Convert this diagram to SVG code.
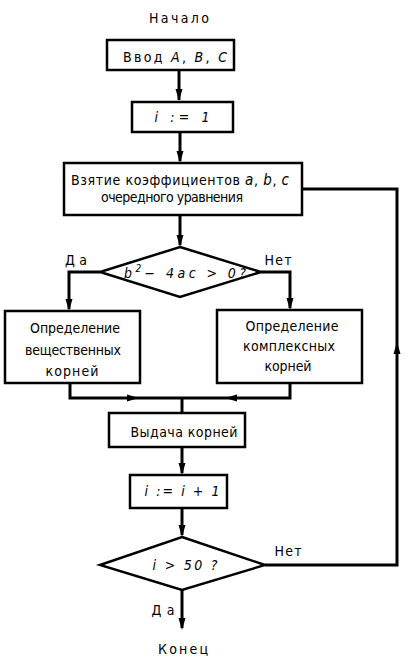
<svg xmlns="http://www.w3.org/2000/svg" xmlns:xlink="http://www.w3.org/1999/xlink" width="413" height="664" viewBox="0 0 413 664">
<style>
.b{fill:#fff;stroke:#000;stroke-width:2.5}
.c{fill:none;stroke:#000;stroke-width:3;stroke-linejoin:miter}
.t{font-family:"DejaVu Sans","Liberation Sans",sans-serif;font-stretch:condensed;font-size:14px;fill:#000;text-anchor:middle}
.i{font-style:italic}
</style>
<defs>
<polygon id="ah" points="0,0 -3.5,-12 3.5,-12" fill="#000"/>
</defs>
<rect width="413" height="664" fill="#fff"/>
<g id="start"><text class="t" x="179" y="23" font-size="15" textLength="60" lengthAdjust="spacing">Начало</text></g>
<g id="input"><rect class="b" x="107" y="40" width="127" height="30"/><text class="t" x="175" y="62" font-size="15" textLength="104" lengthAdjust="spacing">Ввод <tspan class="i">A</tspan>, <tspan class="i">B</tspan>, <tspan class="i">C</tspan></text></g>
<g id="init"><rect class="b" x="132" y="102" width="101" height="30"/><text class="t i" x="182" y="122" font-size="15" textLength="55" lengthAdjust="spacing">i := 1</text></g>
<g id="take"><rect class="b" x="64" y="163" width="238" height="52"/><text class="t" x="180" y="185" font-size="13" textLength="218" lengthAdjust="spacing">Взятие коэффициентов <tspan class="i" font-size="15">a</tspan>, <tspan class="i" font-size="15">b</tspan>, <tspan class="i" font-size="15">c</tspan></text><text class="t" x="172" y="202" font-size="13" textLength="142" lengthAdjust="spacing">очередного уравнения</text></g>
<g id="cond1"><polygon class="b" points="180,247 261,272 180,297 100,272"/><text class="t i" x="185" y="278" font-size="15" textLength="122" lengthAdjust="spacing">b<tspan font-size="10" dy="-6">2</tspan><tspan dy="6">− 4ac &gt; 0?</tspan></text></g>
<g id="real"><rect class="b" x="5" y="311" width="135" height="72"/><text class="t" x="75" y="333" textLength="90" lengthAdjust="spacing">Определение</text><text class="t" x="73" y="355" textLength="96" lengthAdjust="spacing">вещественных</text><text class="t" x="72" y="376" textLength="53" lengthAdjust="spacing">корней</text></g>
<g id="complex"><rect class="b" x="217" y="310" width="145" height="73"/><text class="t" x="292" y="331" textLength="93" lengthAdjust="spacing">Определение</text><text class="t" x="289" y="351" textLength="92" lengthAdjust="spacing">комплексных</text><text class="t" x="288" y="371" textLength="47" lengthAdjust="spacing">корней</text></g>
<g id="output"><rect class="b" x="109" y="413" width="136" height="34"/><text class="t" x="184" y="437" textLength="107" lengthAdjust="spacing">Выдача корней</text></g>
<g id="incr"><rect class="b" x="130" y="475" width="97" height="33"/><text class="t i" x="182" y="496" font-size="15" textLength="75" lengthAdjust="spacing">i := i + 1</text></g>
<g id="cond2"><polygon class="b" points="182,537 265,565 182,590 100,565"/><text class="t i" x="185" y="570" font-size="15" textLength="65" lengthAdjust="spacing">i &gt; 50 ?</text></g>
<g id="end"><text class="t" x="183" y="654" font-size="15" textLength="50" lengthAdjust="spacing">Конец</text></g>
<g id="connectors">
<path class="c" d="M179,70 V100"/><use xlink:href="#ah" transform="translate(179,101)"/>
<path class="c" d="M180,132 V161"/><use xlink:href="#ah" transform="translate(180,163)"/>
<path class="c" d="M180,215 V245"/><use xlink:href="#ah" transform="translate(180,247)"/>
<path class="c" d="M100,272 H69 V309"/><use xlink:href="#ah" transform="translate(69,311)"/>
<path class="c" d="M261,272 H290 V308"/><use xlink:href="#ah" transform="translate(290,310)"/>
<path class="c" d="M70,383 V398 H290 V383"/><use xlink:href="#ah" transform="translate(139,398) rotate(-90)"/><use xlink:href="#ah" transform="translate(225,398) rotate(90)"/>
<path class="c" d="M182,398 V413"/>
<path class="c" d="M182,447 V473"/><use xlink:href="#ah" transform="translate(182,475)"/>
<path class="c" d="M182,508 V535"/><use xlink:href="#ah" transform="translate(182,537)"/>
<path class="c" d="M182,590 V628"/><use xlink:href="#ah" transform="translate(182,630)"/>
<path class="c" d="M265,565 H397 V189 H302" stroke-width="2.5"/><use xlink:href="#ah" transform="translate(397,342) rotate(180)"/>
<text class="t" x="76" y="265" textLength="22" lengthAdjust="spacing">Да</text>
<text class="t" x="278" y="265" textLength="27" lengthAdjust="spacing">Нет</text>
<text class="t" x="288" y="556" textLength="27" lengthAdjust="spacing">Нет</text>
<text class="t" x="163" y="615" textLength="23" lengthAdjust="spacing">Да</text>
</g>
</svg>
